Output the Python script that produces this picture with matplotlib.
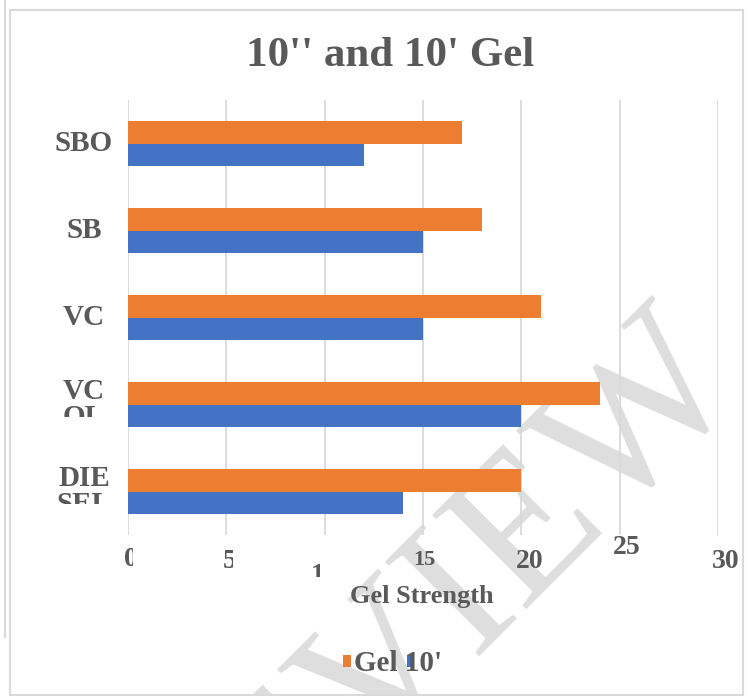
import numpy as np
import matplotlib
matplotlib.use("Agg")
import matplotlib.pyplot as plt
from matplotlib.transforms import Bbox, blended_transform_factory, offset_copy
from matplotlib.patches import Rectangle
from matplotlib.lines import Line2D

# data
categories = ["SBO", "SB", "VC", "VC\nOL", "DIE\nSEL"]
gel_10min = [17, 18, 21, 24, 20]    # Gel 10'
gel_10sec = [12, 15, 15, 20, 14]    # Gel 10''
x_ticks = [0, 5, 10, 15, 20, 25, 30]
x_tick_labels = ["0", "5", "10", "15", "20", "25", "30"]
title = "10'' and 10' Gel"
x_title = "Gel Strength"
legend_label = "Gel 10'"

W, H = 756, 696
ORANGE = "#ED7D31"
BLUE = "#4472C4"
GREY_TXT = "#595959"
GRID = "#D9D9D9"
SERIF = ["Liberation Serif", "DejaVu Serif"]


def fx(x):
    return x / W


def fy(y):
    return 1 - y / H


def clip_px(x0, y0, x1, y1):
    # image pixel box (top-down) -> display box
    return Bbox.from_extents(x0, H - y1, x1, H - y0)


fig = plt.figure(figsize=(W / 100, H / 100), dpi=100)
fig.patch.set_facecolor("white")

# watermark, drawn under the axes
fig.text(fx(745), fy(384), "PREVIEW", fontsize=147, family=SERIF,
         color="#DEDEDE", rotation=45, rotation_mode="anchor",
         ha="right", va="baseline", zorder=-5)

ax = fig.add_axes([fx(128), fy(535), (718 - 128) / W, (535 - 100) / H])
ax.patch.set_alpha(0)

y = np.arange(len(categories))
bh = 0.26
ax.barh(y - bh / 2, gel_10min, height=bh, color=ORANGE, zorder=3)
ax.barh(y + bh / 2, gel_10sec, height=bh, color=BLUE, zorder=3)

ax.set_xlim(0, 30)
ax.set_ylim(len(categories) - 0.5, -0.5)
ax.set_xticks(x_ticks)
ax.set_yticks([])
ax.grid(axis="x", color=GRID, lw=1.3, zorder=1)
ax.set_axisbelow(True)
ax.tick_params(length=0, labelbottom=False, labelleft=False)
for s in ax.spines.values():
    s.set_visible(False)

# category labels (second wrapped line cut off like the original)
cat_clips = [None, None, None, (0, 0, 200, 417), (0, 0, 200, 504)]
ytr = ax.get_yaxis_transform()
for i, lab in enumerate(categories):
    t = ax.text((84 - 128) / 590, i, lab, transform=ytr, ha="center",
                va="center", fontsize=21, fontweight="bold", family=SERIF,
                color=GREY_TXT, linespacing=0.95, multialignment="center",
                clip_on=True)
    c = cat_clips[i]
    t.set_clip_box(clip_px(*c) if c else clip_px(0, 0, W, H))

# x tick labels, with the odd offsets / clipping of the source image
tick_dx = [3, 3, 0, 1, 8, 7, 8]
tick_y = [560, 561, 575, 560, 562, 548, 562]
tick_fs = [20, 20, 20, 16, 20, 20, 20]
tick_clips = [(0, 0, 133, H), (0, 0, 233, H), (0, 0, 320, 577),
              None, None, None, None]
xtr = blended_transform_factory(ax.transData, fig.transFigure)
for v, lab, dx, yy, fs, c in zip(x_ticks, x_tick_labels, tick_dx, tick_y,
                                 tick_fs, tick_clips):
    tr = offset_copy(xtr, fig=fig, x=dx, y=0, units="dots")
    t = ax.text(v, fy(yy), lab, transform=tr, ha="center", va="center",
                fontsize=fs, fontweight="bold", family=SERIF,
                color=GREY_TXT, clip_on=True)
    t.set_clip_box(clip_px(*c) if c else clip_px(0, 0, W, H))

# title and axis title
fig.text(fx(390), fy(56), title, ha="center", va="center", fontsize=31,
         fontweight="bold", family=SERIF, color=GREY_TXT)
fig.text(fx(422), fy(597), x_title, ha="center", va="center", fontsize=19,
         fontweight="bold", family=SERIF, color=GREY_TXT)

# legend (entries overlap in the source)
fig.add_artist(Rectangle((fx(343), fy(667)), 8 / W, 12 / H,
                         transform=fig.transFigure, color=ORANGE, lw=0))
fig.add_artist(Rectangle((fx(407), fy(667)), 5 / W, 12 / H,
                         transform=fig.transFigure, color=BLUE, lw=0))
fig.text(fx(354), fy(671), legend_label, ha="left", va="baseline",
         fontsize=21, fontweight="bold", family=SERIF, color=GREY_TXT)

# chart border
fig.add_artist(Rectangle((fx(10), fy(695)), (743 - 10) / W, (695 - 10) / H,
                         transform=fig.transFigure, fill=False,
                         edgecolor=GRID, lw=1.5))
fig.add_artist(Line2D([fx(5), fx(5)], [fy(0), fy(637)],
                      transform=fig.transFigure, color=GRID, lw=1.5))

fig.savefig("out.png", dpi=100)
